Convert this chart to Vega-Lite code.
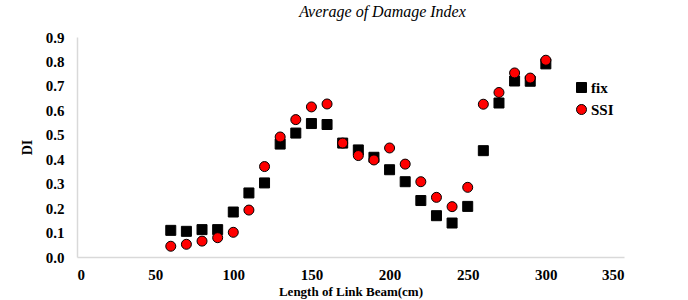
{
  "$schema": "https://vega.github.io/schema/vega-lite/v6.json",
  "autosize": "none",
  "width": 547,
  "height": 220,
  "padding": {"left": 77, "top": 37, "right": 64, "bottom": 43},
  "background": "white",
  "title": {
    "text": "Average of Damage Index",
    "font": "Liberation Serif, DejaVu Serif, serif",
    "fontSize": 16,
    "fontStyle": "italic",
    "fontWeight": "normal",
    "color": "black",
    "anchor": "middle",
    "dx": 32,
    "offset": 10
  },
  "data": {
    "values": [
      {"L": 60, "DI": 0.109, "s": "fix"},
      {"L": 70, "DI": 0.105, "s": "fix"},
      {"L": 80, "DI": 0.112, "s": "fix"},
      {"L": 90, "DI": 0.112, "s": "fix"},
      {"L": 100, "DI": 0.184, "s": "fix"},
      {"L": 110, "DI": 0.262, "s": "fix"},
      {"L": 120, "DI": 0.303, "s": "fix"},
      {"L": 130, "DI": 0.462, "s": "fix"},
      {"L": 140, "DI": 0.507, "s": "fix"},
      {"L": 150, "DI": 0.546, "s": "fix"},
      {"L": 160, "DI": 0.542, "s": "fix"},
      {"L": 170, "DI": 0.466, "s": "fix"},
      {"L": 180, "DI": 0.438, "s": "fix"},
      {"L": 190, "DI": 0.408, "s": "fix"},
      {"L": 200, "DI": 0.357, "s": "fix"},
      {"L": 210, "DI": 0.308, "s": "fix"},
      {"L": 220, "DI": 0.231, "s": "fix"},
      {"L": 230, "DI": 0.169, "s": "fix"},
      {"L": 240, "DI": 0.139, "s": "fix"},
      {"L": 250, "DI": 0.207, "s": "fix"},
      {"L": 260, "DI": 0.435, "s": "fix"},
      {"L": 270, "DI": 0.63, "s": "fix"},
      {"L": 280, "DI": 0.72, "s": "fix"},
      {"L": 290, "DI": 0.719, "s": "fix"},
      {"L": 300, "DI": 0.79, "s": "fix"},
      {"L": 60, "DI": 0.044, "s": "SSI"},
      {"L": 70, "DI": 0.052, "s": "SSI"},
      {"L": 80, "DI": 0.065, "s": "SSI"},
      {"L": 90, "DI": 0.079, "s": "SSI"},
      {"L": 100, "DI": 0.101, "s": "SSI"},
      {"L": 110, "DI": 0.192, "s": "SSI"},
      {"L": 120, "DI": 0.37, "s": "SSI"},
      {"L": 130, "DI": 0.491, "s": "SSI"},
      {"L": 140, "DI": 0.562, "s": "SSI"},
      {"L": 150, "DI": 0.614, "s": "SSI"},
      {"L": 160, "DI": 0.626, "s": "SSI"},
      {"L": 170, "DI": 0.466, "s": "SSI"},
      {"L": 180, "DI": 0.415, "s": "SSI"},
      {"L": 190, "DI": 0.397, "s": "SSI"},
      {"L": 200, "DI": 0.446, "s": "SSI"},
      {"L": 210, "DI": 0.38, "s": "SSI"},
      {"L": 220, "DI": 0.308, "s": "SSI"},
      {"L": 230, "DI": 0.244, "s": "SSI"},
      {"L": 240, "DI": 0.206, "s": "SSI"},
      {"L": 250, "DI": 0.285, "s": "SSI"},
      {"L": 260, "DI": 0.625, "s": "SSI"},
      {"L": 270, "DI": 0.673, "s": "SSI"},
      {"L": 280, "DI": 0.753, "s": "SSI"},
      {"L": 290, "DI": 0.732, "s": "SSI"},
      {"L": 300, "DI": 0.805, "s": "SSI"}
    ]
  },
  "mark": {"type": "point", "filled": true, "stroke": "black", "strokeWidth": 1, "opacity": 1},
  "encoding": {
    "x": {
      "field": "L", "type": "quantitative",
      "scale": {"domain": [0, 350], "nice": false},
      "axis": {
        "values": [0, 50, 100, 150, 200, 250, 300, 350],
        "title": "Length of Link Beam(cm)",
        "grid": false, "ticks": false,
        "domainColor": "#d9d9d9", "domainWidth": 1.5,
        "labelFont": "Liberation Serif, DejaVu Serif, serif", "labelFontSize": 15, "labelFontWeight": "bold", "labelColor": "black",
        "labelPadding": 10,
        "titleFont": "Liberation Serif, DejaVu Serif, serif", "titleFontSize": 13, "titleFontWeight": "bold", "titleColor": "black",
        "titlePadding": 3
      }
    },
    "y": {
      "field": "DI", "type": "quantitative",
      "scale": {"domain": [0, 0.9], "nice": false},
      "axis": {
        "values": [0, 0.1, 0.2, 0.3, 0.4, 0.5, 0.6, 0.7, 0.8, 0.9],
        "format": ".1f",
        "title": "DI",
        "grid": false, "ticks": false,
        "domainColor": "#d9d9d9", "domainWidth": 1.5,
        "labelFont": "Liberation Serif, DejaVu Serif, serif", "labelFontSize": 15, "labelFontWeight": "bold", "labelColor": "black",
        "labelPadding": 13,
        "titleFont": "Liberation Serif, DejaVu Serif, serif", "titleFontSize": 14, "titleFontWeight": "bold", "titleColor": "black",
        "titlePadding": 11
      }
    },
    "shape": {
      "field": "s", "type": "nominal",
      "scale": {"domain": ["fix", "SSI"], "range": ["square", "circle"]},
      "legend": {
        "title": null,
        "orient": "none",
        "legendX": 497,
        "legendY": 43,
        "labelFont": "Liberation Serif, DejaVu Serif, serif", "labelFontSize": 15, "labelFontWeight": "bold", "labelColor": "black",
        "symbolSize": 100,
        "symbolStrokeColor": "black",
        "symbolStrokeWidth": 1,
        "rowPadding": 6,
        "labelOffset": 2
      }
    },
    "color": {
      "field": "s", "type": "nominal",
      "scale": {"domain": ["fix", "SSI"], "range": ["black", "red"]},
      "legend": {
        "title": null,
        "orient": "none",
        "legendX": 497,
        "legendY": 43,
        "labelFont": "Liberation Serif, DejaVu Serif, serif", "labelFontSize": 15, "labelFontWeight": "bold", "labelColor": "black",
        "symbolSize": 100,
        "symbolStrokeColor": "black",
        "symbolStrokeWidth": 1,
        "rowPadding": 6,
        "labelOffset": 2
      }
    },
    "size": {"value": 100}
  },
  "config": {"view": {"stroke": null}}
}
